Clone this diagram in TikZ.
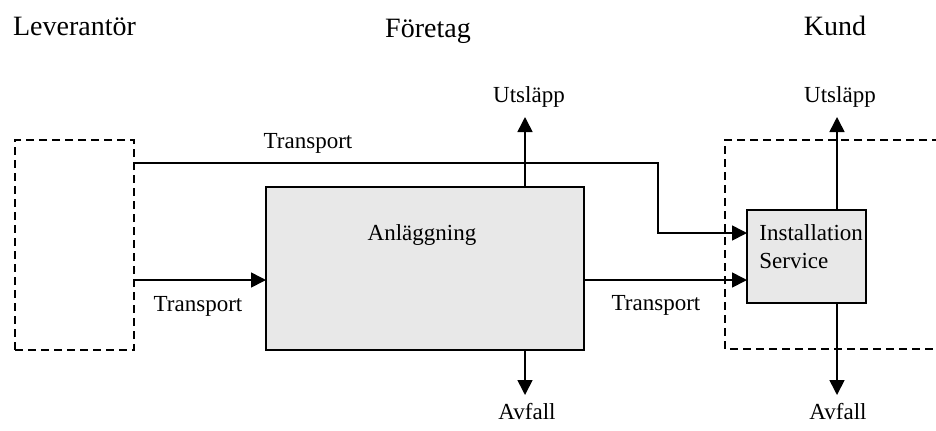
\documentclass[tikz,border=0pt]{standalone}
\usepackage{fontspec}
\setmainfont{Liberation Serif}
\usetikzlibrary{arrows.meta}
\definecolor{boxgray}{RGB}{232,232,232}
\begin{document}
\begin{tikzpicture}[x=0.5pt,y=-0.5pt,
  lbl/.style={inner sep=0pt, anchor=base, font=\fontsize{11.5}{14}\selectfont},
  head/.style={inner sep=0pt, anchor=base, font=\fontsize{14}{17}\selectfont},
  unit/.style={draw, line width=0.8pt, fill=boxgray, inner sep=0pt, outer sep=0pt},
  party/.style={draw, dash pattern=on 4pt off 2.5pt, line width=0.8pt, inner sep=0pt, outer sep=0pt},
  flow/.style={line width=0.8pt, -{Triangle[length=7.5pt,width=7.5pt]}},
  wire/.style={line width=0.8pt}]
\useasboundingbox (0,0) rectangle (936,430);

% column headings
\node[head] (hlev) at (74.5,35) {Leverantör};
\node[head] (hfor) at (428,37) {Företag};
\node[head] (hkund) at (835,35) {Kund};

% supplier (dashed) and customer (dashed, open to the right)
\node[party, minimum width=59.5pt, minimum height=105pt] (lev) at (74.5,245) {};
\coordinate (kTR) at (940,140);
\coordinate (kTL) at (725,140);
\coordinate (kBL) at (725,349);
\coordinate (kBR) at (940,349);
\draw[party] (kTR) -- (kTL) -- (kBL) -- (kBR);

% plant and installation boxes
\node[unit, minimum width=159pt, minimum height=81.5pt] (anl) at (425,268.5) {};
\node[unit, minimum width=59.5pt, minimum height=46.5pt] (inst) at (806.5,256.5) {};

% texts
\node[lbl] (anlText) at (422,240) {Anläggning};
\node[lbl, anchor=base west] (instA) at (759,240) {Installation};
\node[lbl, anchor=base west] (instB) at (759,268) {Service};
\node[lbl] (tTop) at (308,148) {Transport};
\node[lbl] (tLeft) at (198,311) {Transport};
\node[lbl] (tMid) at (656,310) {Transport};
\node[lbl] (u1) at (529,102) {Utsläpp};
\node[lbl] (u2) at (840,102) {Utsläpp};
\node[lbl] (a1) at (527,419) {Avfall};
\node[lbl] (a2) at (838,419) {Avfall};

% transport flows
\coordinate (topy) at (0,163);
\coordinate (row) at (0,280);
\coordinate (bend) at (658,233);
\draw[flow] (lev.east |- topy) -| (bend) -- (bend -| inst.west);
\draw[flow] (lev.east |- row) -- (anl.west |- row);
\draw[flow] (anl.east |- row) -- (inst.west |- row);

% emissions and waste
\coordinate (up1) at (525,117);
\coordinate (dn1) at (525,395);
\coordinate (up2) at (837,117);
\coordinate (dn2) at (837,395);
\draw[flow] (anl.north -| up1) -- (up1);
\draw[flow] (anl.south -| dn1) -- (dn1);
\draw[flow] (inst.north -| up2) -- (up2);
\draw[flow] (inst.south -| dn2) -- (dn2);
\end{tikzpicture}
\end{document}
